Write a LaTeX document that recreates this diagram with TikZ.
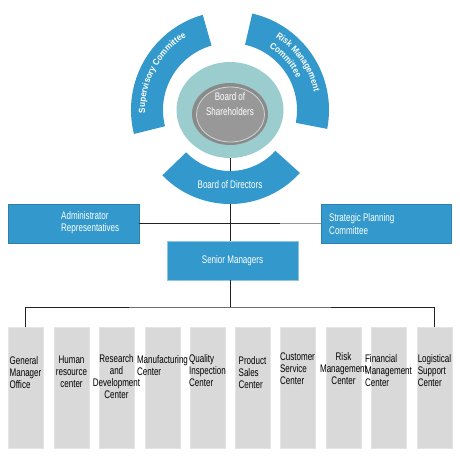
\documentclass[tikz,border=0pt]{standalone}
\usepackage{fontspec}
\setmainfont{Liberation Sans}[FakeStretch=0.73]
\newfontfamily\arcfont{Liberation Sans}[FakeStretch=0.9]
\usetikzlibrary{decorations.text,calc,shapes.geometric}
\definecolor{cblue}{RGB}{51,153,204}
\definecolor{cteal}{RGB}{155,205,207}
\definecolor{cgrayring}{RGB}{138,138,138}
\definecolor{cgrayin}{RGB}{152,152,152}
\definecolor{cringline}{RGB}{205,214,214}
\definecolor{cbox}{RGB}{217,217,217}
\definecolor{cline}{RGB}{34,34,34}
\definecolor{clinelight}{RGB}{150,150,150}
\begin{document}
\begin{tikzpicture}[x=1pt,y=-1pt,
  bluebox/.style={fill=cblue, draw=cblue!85!black, line width=0.5pt, inner sep=0pt, text=white,
     font=\fontsize{11}{12}\selectfont},
  graybox/.style={fill=cbox, draw=cbox!70!white, line width=0.5pt, inner sep=0pt,
     minimum width=35pt, minimum height=121pt},
  btext/.style={font=\fontsize{11}{12}\selectfont, inner sep=0pt, anchor=north, text=black},
  wtext/.style={font=\fontsize{11}{12}\selectfont, inner sep=0pt, text=white},
  conn/.style={draw=cline, line width=0.8pt}
]
\useasboundingbox[fill=white] (0,0) rectangle (460,459);
\coordinate (c) at (230,110);

% central circles
\node[ellipse, fill=cteal, minimum width=107pt, minimum height=96pt, inner sep=0pt] (teal) at (230,110) {};
\node[ellipse, fill=cgrayring, minimum width=76pt, minimum height=62pt, inner sep=0pt] (grayc) at (230,114) {};
\node[ellipse, fill=cgrayin, draw=cringline, line width=0.8pt, minimum width=68pt, minimum height=55pt, inner sep=0pt] (grayin) at (230.5,114.5) {};
\node[wtext, align=center, font=\fontsize{11}{15}\selectfont] (shtxt) at (230,104.5) {Board of\\Shareholders};

% boxes
\node[bluebox, minimum width=131pt, minimum height=39pt] (admin) at (73.5,223.5) {};
\node[wtext, align=left, anchor=west] (admintxt) at (61,222.5) {Administrator\\Representatives};
\node[bluebox, minimum width=130pt, minimum height=39pt] (strat) at (386,223.5) {};
\node[wtext, align=left, anchor=west, font=\fontsize{11}{13}\selectfont] (strattxt) at (329,224.5) {Strategic Planning\\Committee};
\node[bluebox, draw=cblue!55!white, minimum width=131pt, minimum height=39pt] (senior) at (232.5,260.5) {Senior Managers};

% connectors behind the ring segments
\draw[conn] (teal.south) -- (teal.south |- senior.north);
\coordinate (hsplit) at (280,223.5);
\draw[conn] (admin.east) -- (hsplit);
\draw[draw=clinelight, line width=0.8pt] (hsplit) -- (strat.west);
\coordinate (bus) at (230,307);
\draw[conn] (teal.south |- senior.south) -- (bus);

% ring segments
\fill[cblue] ($(c)+(-224:94)$) arc[start angle=-224, end angle=-318, radius=94]
   -- ($(c)+(-318:61)$) arc[start angle=-318, end angle=-224, radius=61] -- cycle;
\fill[cblue] ($(c)+(-106:99)$) arc[start angle=-106, end angle=-194, radius=99]
   -- ($(c)+(-194:67)$) arc[start angle=-194, end angle=-106, radius=67] -- cycle;
\fill[cblue] ($(c)+(-77:99)$) arc[start angle=-77, end angle=11, radius=99]
   -- ($(c)+(11:67)$) arc[start angle=11, end angle=-77, radius=67] -- cycle;
\node[wtext] (bodtxt) at (230,185) {Board of Directors};

% curved texts
\path[decorate, decoration={text along path, text color=white, text align=center,
  text={|\arcfont\bfseries\fontsize{9}{9}\selectfont|Supervisory Committee}}]
  ($(c)+(-195:85)$) arc[start angle=-195, end angle=-108, radius=85];
\path[decorate, decoration={text along path, text color=white,
  text={|\arcfont\bfseries\fontsize{9}{9}\selectfont|Risk Management}}]
  ($(c)+(-58:86)$) arc[start angle=-58, end angle=15, radius=86];
\path[decorate, decoration={text along path, text color=white,
  text={|\arcfont\bfseries\fontsize{9}{9}\selectfont|Committee}}]
  ($(c)+(-58:74)$) arc[start angle=-58, end angle=15, radius=74];

% bottom boxes
\foreach \i/\l in {1/8,2/54,3/99,4/145,5/190,6/235,7/280,8/326,9/371,10/417}{
  \node[graybox] (b\i) at (\l+17.5,387.5) {};
}
\node[btext, align=left]   (t1)  at (b1.center |- 0,356) {General\\Manager\\Office};
\node[btext, align=center] (t2)  at (b2.center |- 0,356) {Human\\resource\\center};
\node[btext, align=center] (t3)  at (b3.center |- 0,354) {Research\\and\\Development\\Center};
\node[btext, align=left]   (t4)  at (b4.center |- 0,355) {Manufacturing\\Center};
\node[btext, align=left]   (t5)  at (b5.center |- 0,354) {Quality\\Inspection\\Center};
\node[btext, align=left]   (t6)  at (b6.center |- 0,356) {Product\\Sales\\Center};
\node[btext, align=left]   (t7)  at (b7.center |- 0,353) {Customer\\Service\\Center};
\node[btext, align=center] (t8)  at (b8.center |- 0,352) {Risk\\Management\\Center};
\node[btext, align=left]   (t9)  at (b9.center |- 0,354) {Financial\\Management\\Center};
\node[btext, align=left]   (t10) at (b10.center |- 0,354) {Logistical\\Support\\Center};

\draw[conn] (b1.north) |- (bus) -| (b10.north);
\end{tikzpicture}
\end{document}
